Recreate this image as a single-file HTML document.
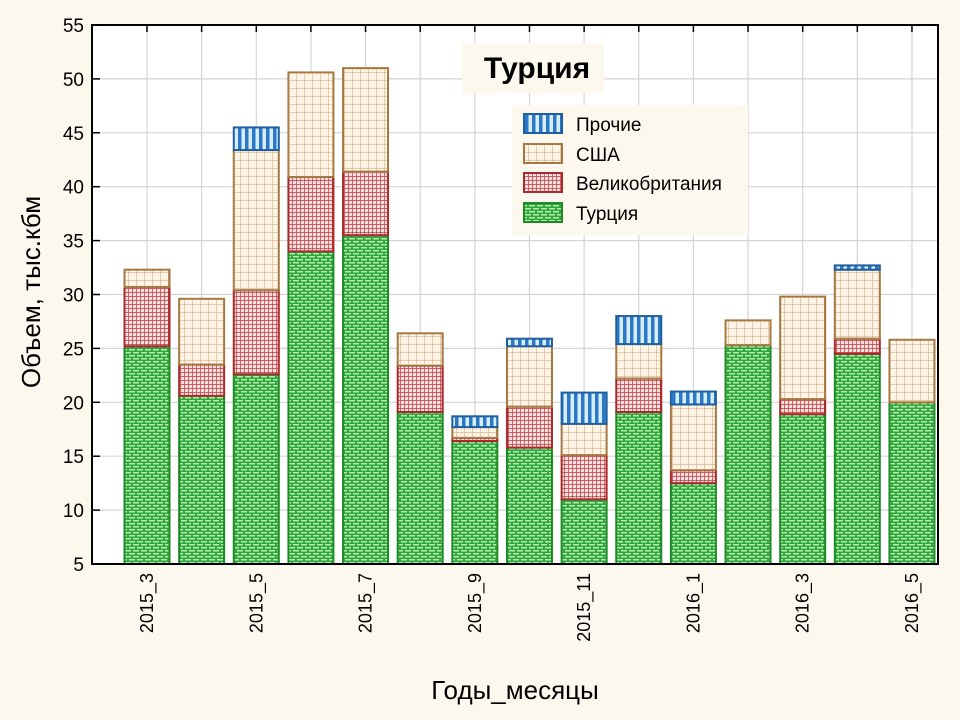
<!DOCTYPE html>
<html><head><meta charset="utf-8"><style>
body{margin:0;background:#fdf8ee;}
svg{display:block;font-family:"Liberation Sans",sans-serif;}
</style></head><body>
<svg id="c" width="960" height="720" viewBox="0 0 960 720">
<defs>
<pattern id="pT" width="8" height="6" patternUnits="userSpaceOnUse"><rect width="8" height="6" fill="#2fa63a"/><rect x="1" y="1" width="6" height="1.5" fill="#b6ecb0"/><rect x="-3" y="4" width="6" height="1.5" fill="#b6ecb0"/><rect x="5" y="4" width="6" height="1.5" fill="#b6ecb0"/></pattern>
<pattern id="pU" width="4" height="4" patternUnits="userSpaceOnUse"><rect width="4" height="4" fill="#f6dede"/><path d="M0 0H4M0 0V4" stroke="#c0393b" stroke-width="1.4"/></pattern>
<pattern id="pS" width="8" height="8" patternUnits="userSpaceOnUse"><rect width="8" height="8" fill="#fdf4e6"/><path d="M0 0H8M0 0V8" stroke="#c9a273" stroke-width="1"/></pattern>
<pattern id="pO" width="7" height="7" patternUnits="userSpaceOnUse"><rect width="7" height="7" fill="#d6eefb"/><rect width="3.5" height="7" fill="#2a78c6"/></pattern>
</defs>
<rect x="92" y="25" width="846" height="539" fill="#fff"/>
<g id="grid"></g><g id="bars"></g><g id="axes"></g>
<rect x="92" y="25" width="846" height="539" fill="none" stroke="#000" stroke-width="2"/>
<g><rect x="462" y="43" width="142" height="50" fill="#fdf8ee"/>
<text x="537" y="78" text-anchor="middle" font-size="30" font-weight="bold" fill="#000">Турция</text></g>
<g>
<rect x="512" y="105" width="236" height="130" fill="#fdf8ee"/>
<g><rect x="524" y="114" width="38" height="19" fill="url(#pO)" stroke="#1f5fa0" stroke-width="2"/><text x="576" y="131" font-size="19">Прочие</text></g>
<g><rect x="524" y="144" width="38" height="19" fill="url(#pS)" stroke="#a57842" stroke-width="2"/><text x="576" y="161" font-size="19">США</text></g>
<g><rect x="524" y="173" width="38" height="19" fill="url(#pU)" stroke="#a82a2c" stroke-width="2"/><text x="576" y="190" font-size="19">Великобритания</text></g>
<g><rect x="524" y="203" width="38" height="19" fill="url(#pT)" stroke="#1d8a26" stroke-width="2"/><text x="576" y="220" font-size="19">Турция</text></g>
</g>
<text x="40" y="292" transform="rotate(-90 40 292)" text-anchor="middle" font-size="26">Объем, тыс.кбм</text>
<text x="515" y="699" text-anchor="middle" font-size="26">Годы_месяцы</text>
</svg>
<script>
const categories=["2015_3","2015_4","2015_5","2015_6","2015_7","2015_8","2015_9","2015_10","2015_11","2015_12","2016_1","2016_2","2016_3","2016_4","2016_5"];
const turkey=[25.2,20.6,22.6,34.0,35.5,19.1,16.4,15.8,11.0,19.1,12.5,25.3,18.9,24.5,20.0];
const uk=[5.5,2.9,7.8,6.9,5.9,4.3,0.3,3.8,4.1,3.1,1.2,0,1.4,1.4,0];
const usa=[1.6,6.1,13.0,9.7,9.6,3.0,1.0,5.6,2.9,3.2,6.1,2.3,9.5,6.4,5.8];
const other=[0,0,2.1,0,0,0,1.0,0.7,2.9,2.6,1.2,0,0,0.4,0];
const yTicks=[5,10,15,20,25,30,35,40,45,50,55];
const labelIdx=[0,2,4,6,8,10,12,14];
const NS="http://www.w3.org/2000/svg";
const y=v=>564-(v-5)*(539/50);
const x=i=>147+i*54.64;
const bw=45;
function mk(t,a,p){const e=document.createElementNS(NS,t);for(const k in a)e.setAttribute(k,a[k]);p.appendChild(e);return e;}
const grid=document.getElementById('grid'),bars=document.getElementById('bars'),axes=document.getElementById('axes');
yTicks.forEach(v=>{
 const g=mk('line',{x1:92,x2:938,y1:y(v),y2:y(v),stroke:'#d4d4d4','stroke-width':1.2},grid);
 
 
 const t=mk('line',{x1:92,x2:100,y1:y(v),y2:y(v),stroke:'#000','stroke-width':1.5},axes);
 
 
 const l=mk('text',{x:84,y:y(v)+7,'text-anchor':'end','font-size':19},axes);
 l.textContent=v;
 
 
});
categories.forEach((c,i)=>{
 const g=mk('line',{x1:x(i),x2:x(i),y1:25,y2:564,stroke:'#d4d4d4','stroke-width':1.2},grid);
 
 
 const t=mk('line',{x1:x(i),x2:x(i),y1:25,y2:32,stroke:'#000','stroke-width':1.5},axes);
 
 
 if(labelIdx.includes(i)){
  const l=mk('text',{x:x(i)+6,y:573,'text-anchor':'end','font-size':18,transform:`rotate(-90 ${x(i)+6} 573)`},axes);
  l.textContent=c;
  
  
 }
 let base=0;
 const series=[[turkey[i],'url(#pT)','#1d8a26','bar-turkey'],[uk[i],'url(#pU)','#a82a2c','bar-uk'],[usa[i],'url(#pS)','#a57842','bar-usa'],[other[i],'url(#pO)','#1f5fa0','bar-other']];
 series.forEach(([v,f,s,n])=>{
  if(v<=0)return;
  const top=base+v;
  const b=Math.max(base,5);
  const r=mk('rect',{x:x(i)-bw/2,y:y(top),width:bw,height:y(b)-y(top),fill:f,stroke:s,'stroke-width':2},bars);
  
  
  base=top;
 });
});
</script>
</body></html>
